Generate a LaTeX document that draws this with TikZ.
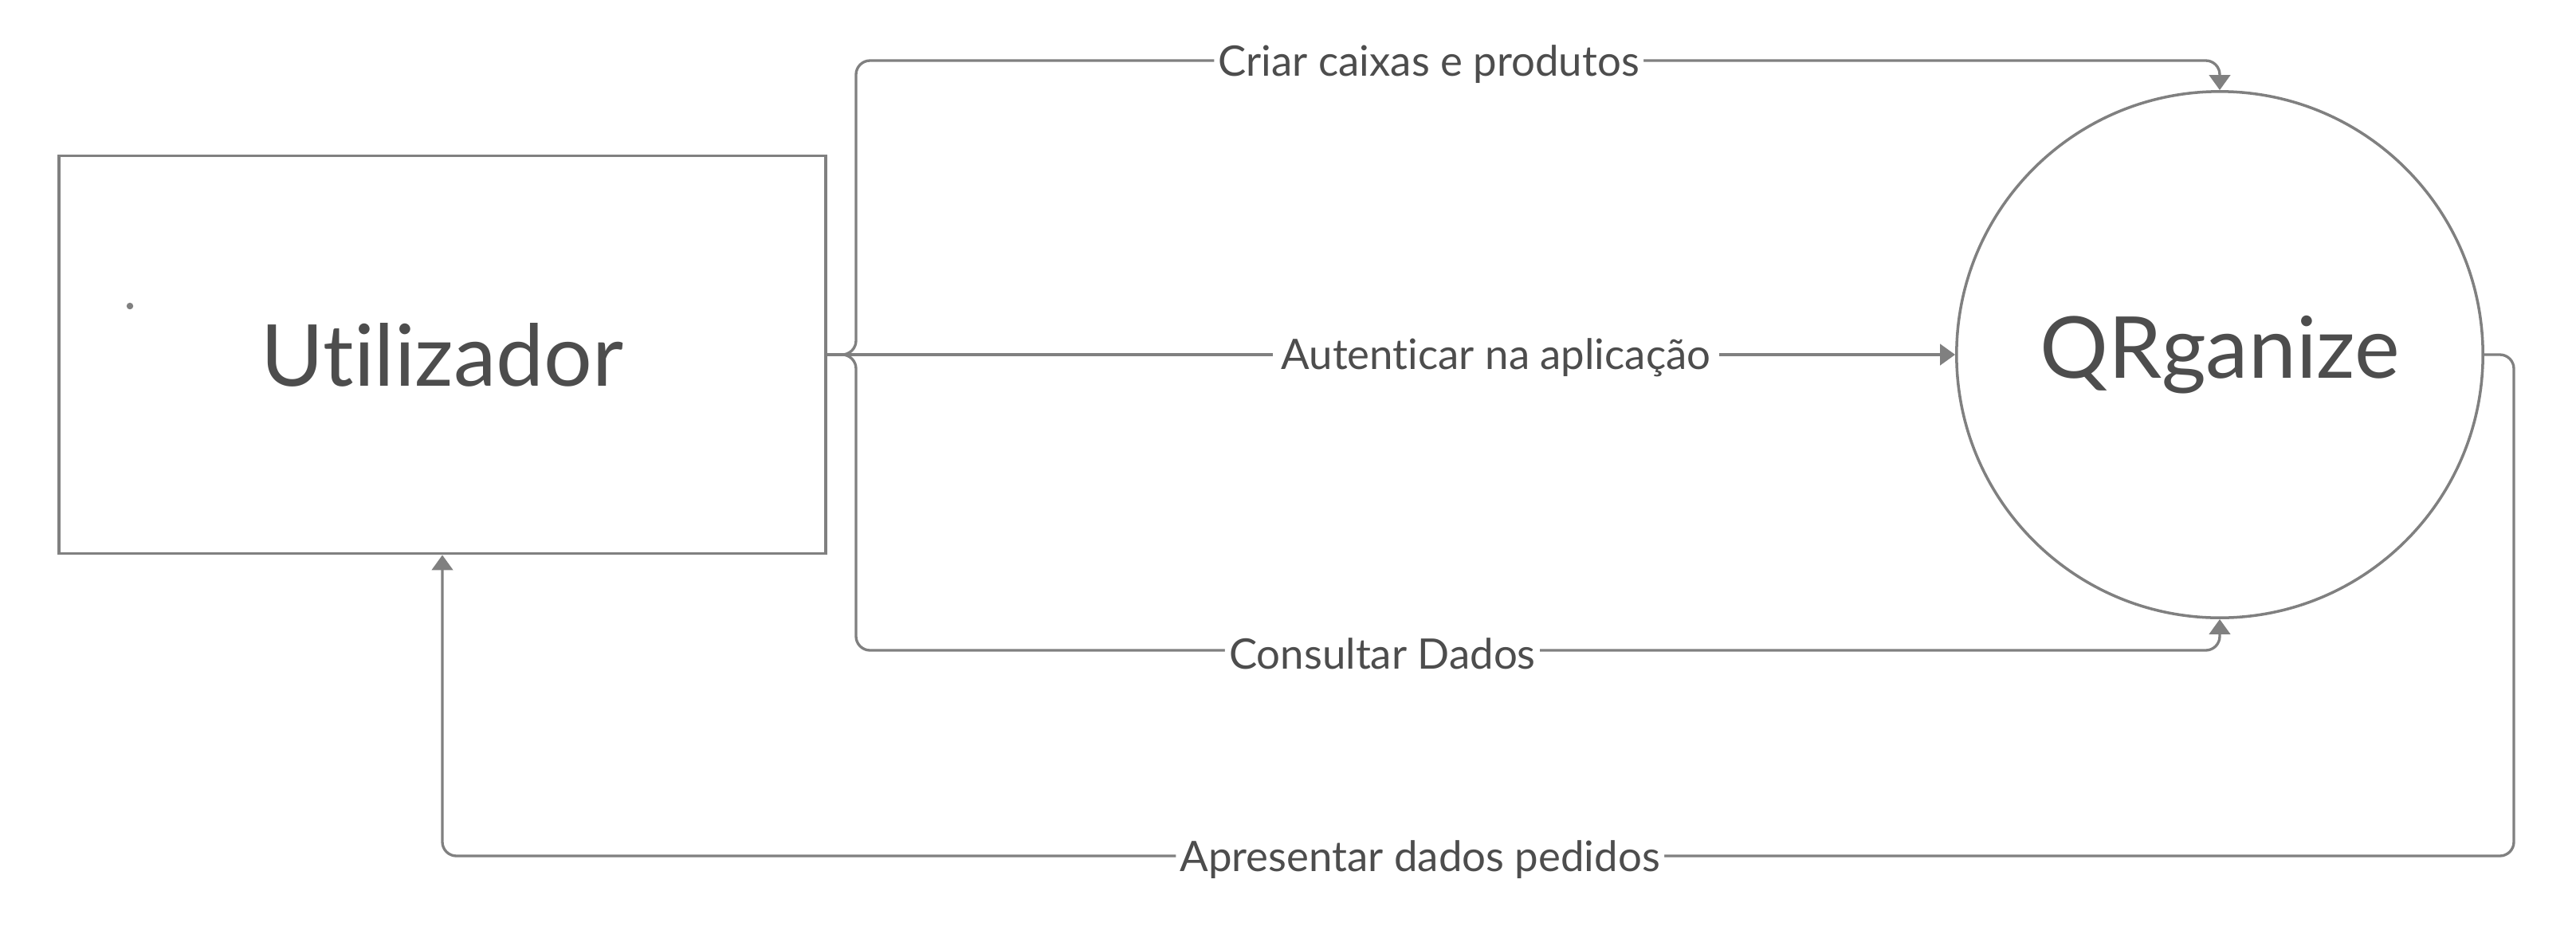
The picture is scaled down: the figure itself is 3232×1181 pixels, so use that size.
\documentclass[tikz,border=0pt]{standalone}
\usepackage{fontspec}
\setmainfont{Lato}[Ligatures=NoCommon]
\usetikzlibrary{arrows.meta}
\definecolor{linegray}{HTML}{808080}
\definecolor{textgray}{HTML}{4D4D4D}

\begin{document}
\begin{tikzpicture}[x=0.01cm, y=-0.01cm,
  flow/.style={draw=linegray, line width=0.95pt, rounded corners=5pt,
    -{Triangle[length=5.4pt, width=7.5pt]}},
  lbl/.style={fill=white, text=textgray, inner sep=1.5pt, yshift=-1.2pt, font=\fontsize{15}{18}\selectfont},
  entity/.style={draw=linegray, line width=1pt, text=textgray, font=\fontsize{30.5}{36}\selectfont}]
  \useasboundingbox (0,0) rectangle (3232,1181);

  \node[entity, rectangle, minimum width=9.61cm, minimum height=4.99cm] (util) at (555,445) {Utilizador};
  \node[entity, circle, minimum size=6.6cm] (qrg) at (2785,445) {QRganize};
  \fill[linegray] (163,384) circle[radius=1.2pt];

  \coordinate (fork) at (1074,445);
  \coordinate (topy) at (0,76);
  \coordinate (boty) at (0,816);
  \coordinate (ret) at (3154,1074);

  \draw[flow] (util.east) -- (fork) |- node[lbl, pos=0.71] {Criar caixas e produtos} (qrg.north |- topy) -- (qrg.north);
  \draw[flow] (util.east) -- node[lbl, pos=0.593, inner xsep=3pt] {Autenticar na aplicação} (qrg.west);
  \draw[flow] (util.east) -- (fork) |- node[lbl, pos=0.693] {Consultar Dados} (qrg.south |- boty) -- (qrg.south);
  \draw[flow] (qrg.east) -| (ret) -| node[lbl, pos=0.264] {Apresentar dados pedidos} (util.south);
\end{tikzpicture}
\end{document}
